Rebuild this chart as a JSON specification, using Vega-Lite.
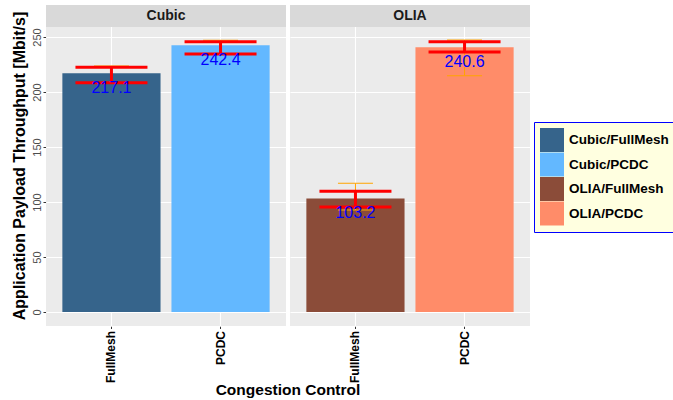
{
  "$schema": "https://vega.github.io/schema/vega-lite/v6.json",
  "padding": {"left": 11, "top": 5, "right": 0, "bottom": 0},
  "background": "white",
  "config": {
    "font": "Liberation Sans",
    "view": {"stroke": null, "fill": "#EBEBEB"},
    "facet": {"spacing": 4}
  },
  "data": {
    "values": [
      {"cc": "Cubic", "cm": "FullMesh", "group": "Cubic/FullMesh", "mean": 217.1, "rlo": 208.5, "rhi": 222.5, "olo": 208.5, "ohi": 223.7},
      {"cc": "Cubic", "cm": "PCDC", "group": "Cubic/PCDC", "mean": 242.4, "rlo": 234.5, "rhi": 245.7, "olo": 234.5, "ohi": 247.0},
      {"cc": "OLIA", "cm": "FullMesh", "group": "OLIA/FullMesh", "mean": 103.2, "rlo": 95.5, "rhi": 109.7, "olo": 92.7, "ohi": 117.0},
      {"cc": "OLIA", "cm": "PCDC", "group": "OLIA/PCDC", "mean": 240.6, "rlo": 236.4, "rhi": 245.7, "olo": 214.8, "ohi": 247.2}
    ]
  },
  "facet": {
    "column": {
      "field": "cc", "type": "nominal",
      "header": {
        "labels": false, "title": "Congestion Control", "titleOrient": "bottom",
        "titleFontSize": 15.5, "titleFontWeight": "bold", "titleColor": "black",
        "titleBaseline": "top", "titlePadding": -10
      }
    }
  },
  "spec": {
    "width": 240,
    "height": 321,
    "layer": [
      {
        "mark": {"type": "bar"},
        "encoding": {
          "x": {
            "field": "cm", "type": "nominal",
            "scale": {"paddingInner": 0.1, "paddingOuter": 0.15},
            "axis": {
              "title": null,
              "labelAngle": -90, "labelAlign": "right", "labelBaseline": "middle",
              "labelFontWeight": "bold", "labelFontSize": 12, "labelColor": "black", "labelPadding": 2,
              "tickColor": "#333333", "tickSize": 2.5, "domain": false,
              "grid": true, "gridColor": "white", "gridWidth": 1.1, "bandPosition": 0.5
            }
          },
          "y": {
            "field": "mean", "type": "quantitative",
            "scale": {"domain": [-12.7, 279.1], "nice": false, "zero": false},
            "axis": {
              "title": "Application Payload Throughput [Mbit/s]",
              "values": [0, 25, 50, 75, 100, 125, 150, 175, 200, 225, 250],
              "labelExpr": "datum.value % 50 == 0 ? datum.label : ''",
              "labelAngle": -90, "labelAlign": "center", "labelBaseline": "bottom",
              "labelFontSize": 11, "labelColor": "#4D4D4D", "labelPadding": 1,
              "tickSize": 3, "tickColor": "#333333",
              "tickOpacity": {"condition": {"test": "datum.value % 50 != 0", "value": 0}, "value": 1},
              "domain": false, "grid": true, "gridColor": "white",
              "gridWidth": {"condition": {"test": "datum.value % 50 == 0", "value": 1.1}, "value": 0.55},
              "titleFontSize": 16, "titleFontWeight": "bold", "titleColor": "black", "titlePadding": 4
            }
          },
          "color": {
            "field": "group", "type": "nominal",
            "scale": {
              "domain": ["Cubic/FullMesh", "Cubic/PCDC", "OLIA/FullMesh", "OLIA/PCDC"],
              "range": ["#36648B", "#63B8FF", "#8B4C39", "#FF8C69"]
            },
            "legend": {
              "title": null, "orient": "none", "legendX": 488, "legendY": 117,
              "symbolType": "square", "symbolSize": 576, "symbolStrokeWidth": 0, "symbolOpacity": 1,
              "labelFontSize": 13.5, "labelFontWeight": "bold", "labelColor": "black", "labelOffset": 5,
              "rowPadding": 0.5, "fillColor": "#FFFFE0", "strokeColor": "#0000FF",
              "padding": 6
            }
          }
        }
      },
      {
        "mark": {"type": "rule", "color": "#FFA500", "strokeWidth": 1},
        "encoding": {
          "x": {"field": "cm", "type": "nominal"},
          "y": {"field": "olo", "type": "quantitative"},
          "y2": {"field": "ohi"}
        }
      },
      {
        "mark": {"type": "tick", "color": "#FFA500", "size": 35, "thickness": 1, "opacity": 1},
        "encoding": {
          "x": {"field": "cm", "type": "nominal"},
          "y": {"field": "olo", "type": "quantitative"}
        }
      },
      {
        "mark": {"type": "tick", "color": "#FFA500", "size": 35, "thickness": 1, "opacity": 1},
        "encoding": {
          "x": {"field": "cm", "type": "nominal"},
          "y": {"field": "ohi", "type": "quantitative"}
        }
      },
      {
        "mark": {"type": "rule", "color": "#FF0000", "strokeWidth": 3},
        "encoding": {
          "x": {"field": "cm", "type": "nominal"},
          "y": {"field": "rlo", "type": "quantitative"},
          "y2": {"field": "rhi"}
        }
      },
      {
        "mark": {"type": "tick", "color": "#FF0000", "size": 72, "thickness": 3, "opacity": 1},
        "encoding": {
          "x": {"field": "cm", "type": "nominal"},
          "y": {"field": "rlo", "type": "quantitative"}
        }
      },
      {
        "mark": {"type": "tick", "color": "#FF0000", "size": 72, "thickness": 3, "opacity": 1},
        "encoding": {
          "x": {"field": "cm", "type": "nominal"},
          "y": {"field": "rhi", "type": "quantitative"}
        }
      },
      {
        "mark": {"type": "text", "fontSize": 16, "color": "#0000FF", "baseline": "alphabetic", "dy": 19.5},
        "encoding": {
          "x": {"field": "cm", "type": "nominal"},
          "y": {"field": "mean", "type": "quantitative"},
          "text": {"field": "mean", "type": "quantitative", "format": ".1f"}
        }
      },
      {
        "transform": [{"aggregate": [{"op": "count", "as": "n"}], "groupby": ["cc"]}],
        "mark": {"type": "rect", "color": "#D9D9D9"},
        "encoding": {
          "y": {"datum": 259.1, "type": "quantitative"},
          "y2": {"datum": 279.1}
        }
      },
      {
        "transform": [{"aggregate": [{"op": "count", "as": "n"}], "groupby": ["cc"]}],
        "mark": {"type": "text", "fontSize": 14, "fontWeight": "bold", "color": "#1A1A1A", "baseline": "middle"},
        "encoding": {
          "y": {"datum": 269.1, "type": "quantitative"},
          "text": {"field": "cc", "type": "nominal"}
        }
      }
    ]
  }
}
